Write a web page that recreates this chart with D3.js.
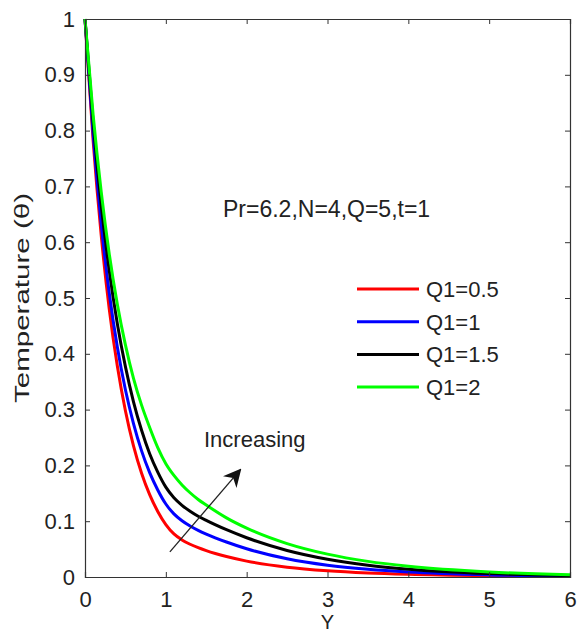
<!DOCTYPE html>
<html>
<head>
<meta charset="utf-8">
<script src="https://cdn.jsdelivr.net/npm/d3@7"></script>
<style>
  body { margin: 0; background: #fff; }
  text { font-family: "Liberation Sans", Arial, sans-serif; fill: #222; }
</style>
</head>
<body>
<svg width="584" height="634"></svg>
<script>
// data
const yPos = [0, 0.1, 0.2, 0.3, 0.4, 0.5, 0.6, 0.7, 0.8, 0.9, 1, 1.1, 1.2, 1.3, 1.4, 1.5, 1.75, 2, 2.5, 3, 3.5, 4, 5, 6];
const thetaQ05 = [1, 0.783, 0.613, 0.480, 0.378, 0.298, 0.235, 0.186, 0.1476, 0.1175, 0.0939, 0.0772, 0.0665, 0.0587, 0.0525, 0.0472, 0.0366, 0.0285, 0.0176, 0.0112, 0.0073, 0.0049, 0.0023, 0.0011];
const thetaQ1  = [1, 0.795, 0.634, 0.509, 0.412, 0.3355, 0.275, 0.226, 0.187, 0.156, 0.1308, 0.1132, 0.1008, 0.0914, 0.0837, 0.077, 0.0627, 0.0506, 0.0326, 0.021, 0.0137, 0.0089, 0.0038, 0.0016];
const thetaQ15 = [1, 0.815, 0.667, 0.549, 0.454, 0.377, 0.314, 0.263, 0.221, 0.188, 0.161, 0.142, 0.1285, 0.118, 0.109, 0.1014, 0.0847, 0.0703, 0.0476, 0.0319, 0.0212, 0.0141, 0.0062, 0.0027];
const thetaQ2  = [1, 0.829, 0.691, 0.579, 0.489, 0.416, 0.356, 0.308, 0.268, 0.232, 0.203, 0.182, 0.165, 0.151, 0.139, 0.129, 0.106, 0.0876, 0.0599, 0.041, 0.028, 0.0192, 0.009, 0.0042];
const seriesNames = ["Q1=0.5", "Q1=1", "Q1=1.5", "Q1=2"];
const seriesColors = ["#ff0000", "#0000ff", "#000000", "#00ff00"];
const xTicks = [0, 1, 2, 3, 4, 5, 6];
const yTicks = [0, 0.1, 0.2, 0.3, 0.4, 0.5, 0.6, 0.7, 0.8, 0.9, 1];
const arrowFrom = [1.05, 0.045], arrowTo = [1.92, 0.192];

const series = [thetaQ05, thetaQ1, thetaQ15, thetaQ2];

const margin = {top: 19, right: 14, bottom: 57, left: 85};
const width = 584 - margin.left - margin.right,
      height = 634 - margin.top - margin.bottom;

const svg = d3.select("svg");
const g = svg.append("g").attr("transform", `translate(${margin.left},${margin.top})`);

const x = d3.scaleLinear().domain([0, 6]).range([0, width]);
const y = d3.scaleLinear().domain([0, 1]).range([height, 0]);

// curves
const line = d3.line()
    .x((d, i) => x(yPos[i]))
    .y(d => y(d))
    .curve(d3.curveMonotoneX);

series.forEach((s, i) => {
    g.append("path")
        .datum(s)
        .attr("fill", "none")
        .attr("stroke", seriesColors[i])
        .attr("stroke-width", 3)
        .attr("d", line);
});

// axes (ticks pointing inward, box on)
const fmt = d3.format("");
const axB = g.append("g").attr("transform", `translate(0,${height})`)
    .call(d3.axisBottom(x).tickValues(xTicks).tickSize(-5).tickPadding(14).tickFormat(fmt));
const axT = g.append("g")
    .call(d3.axisTop(x).tickValues(xTicks).tickSize(-5).tickFormat(""));
const axL = g.append("g")
    .call(d3.axisLeft(y).tickValues(yTicks).tickSize(-5).tickPadding(10).tickFormat(fmt));
const axR = g.append("g").attr("transform", `translate(${width},0)`)
    .call(d3.axisRight(y).tickValues(yTicks).tickSize(-5).tickFormat(""));

[axB, axT, axL, axR].forEach(a => {
    a.select(".domain").attr("stroke", "#333").attr("stroke-width", 1.2);
    a.selectAll(".tick line").attr("stroke", "#333");
    a.selectAll("text").attr("font-size", "22px").attr("fill", "#222")
        .style("font-family", "Liberation Sans, Arial, sans-serif");
});

// axis labels
svg.append("text")
    .attr("x", margin.left + x(3)).attr("y", 629)
    .attr("text-anchor", "middle").attr("font-size", "20px")
    .text("Y");
svg.append("text")
    .attr("transform", `translate(29,${margin.top + height / 2}) rotate(-90)`)
    .attr("text-anchor", "middle").attr("font-size", "20px")
    .attr("textLength", 210).attr("lengthAdjust", "spacingAndGlyphs")
    .text("Temperature (θ)");

// annotation
g.append("text")
    .attr("x", 138).attr("y", 198)
    .attr("font-size", "23px")
    .text("Pr=6.2,N=4,Q=5,t=1");

g.append("text")
    .attr("x", 119).attr("y", 428)
    .attr("font-size", "22px")
    .text("Increasing");

// arrow
svg.append("defs").append("marker")
    .attr("id", "head").attr("viewBox", "0 0 10 10")
    .attr("refX", 9).attr("refY", 5)
    .attr("markerWidth", 18).attr("markerHeight", 18)
    .attr("markerUnits", "userSpaceOnUse")
    .attr("orient", "auto")
    .append("path").attr("d", "M0,0 L10,5 L0,10 L3,5 Z").attr("fill", "#111");

g.append("line")
    .attr("x1", x(arrowFrom[0])).attr("y1", y(arrowFrom[1]))
    .attr("x2", x(arrowTo[0])).attr("y2", y(arrowTo[1]))
    .attr("stroke", "#222").attr("stroke-width", 1.3)
    .attr("marker-end", "url(#head)");

// legend
const legend = svg.append("g").attr("transform", "translate(357,289)");
seriesNames.forEach((name, i) => {
    const row = legend.append("g").attr("transform", `translate(0,${i * 32.7})`);
    row.append("line").attr("x1", 0).attr("x2", 62).attr("y1", 0).attr("y2", 0)
        .attr("stroke", seriesColors[i]).attr("stroke-width", 3);
    row.append("text").attr("x", 69).attr("y", 8).attr("font-size", "22px").text(name);
});
</script>
</body>
</html>
